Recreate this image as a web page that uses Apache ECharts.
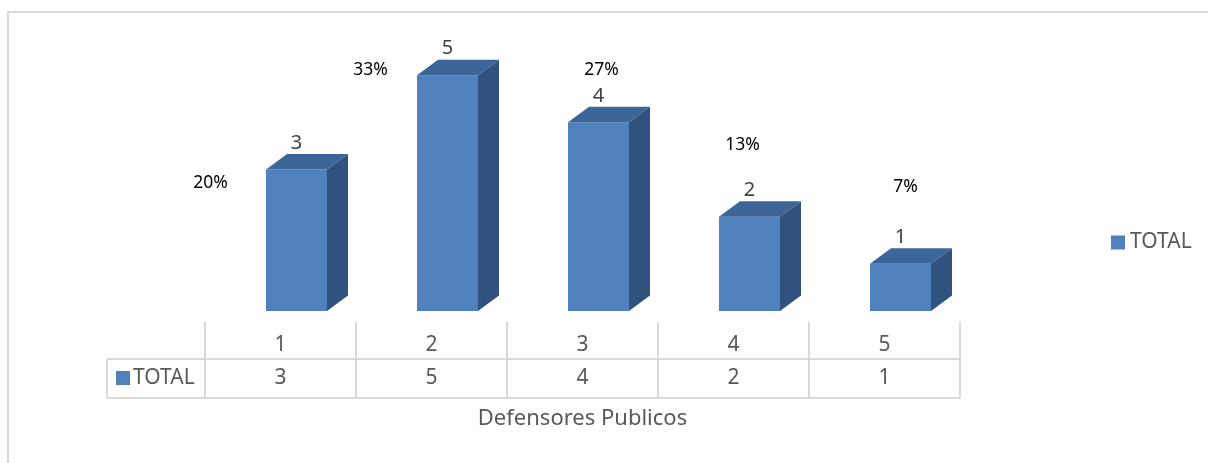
<!DOCTYPE html>
<html>
<head>
<meta charset="utf-8">
<title>Defensores Publicos</title>
<script src="https://cdn.jsdelivr.net/npm/echarts@6/dist/echarts.min.js"></script>
<style>
    html, body {margin: 0; padding: 0; background: #fff;}
    #g-echart {width: 1208px; height: 463px;}
</style>
</head>
<body>
<div id="g-echart"></div>
<script>
// datos
var categorias = ['1', '2', '3', '4', '5'];
var totales = [3, 5, 4, 2, 1];
var porcentajes = ['20%', '33%', '27%', '13%', '7%'];

// posicion manual de las etiquetas de porcentaje (px, relativo al centro de categoria / tope de barra)
var pctOffsets = [[-70, 14], [-61, -5], [19, -52], [9, -72], [21, -77]];

var FONT = 'Noto Sans';
var AZUL = '#4F81BD';
var TAPA = '#3D6698';
var LADO = '#30527F';
var GRIS = '#d9d9d9';

var mychart = echarts.init(document.getElementById('g-echart'));

// barra 3D dibujada a mano con custom series
function renderBarra(params, api) {
    var idx = api.value(0);
    var val = api.value(1);
    var top = api.coord([idx, val]);
    var base = api.coord([idx, 0]);
    var w = 61, dx = 21, dy = 15.5;
    var x0 = top[0] - 14.5;
    var yt = top[1], yb = base[1];
    var off = pctOffsets[idx];
    return {
        type: 'group',
        children: [
            {
                type: 'rect',
                shape: {x: x0, y: yt, width: w, height: yb - yt},
                style: {fill: AZUL}
            },
            {
                type: 'polygon',
                shape: {points: [[x0, yt], [x0 + dx, yt - dy], [x0 + w + dx, yt - dy], [x0 + w, yt]]},
                style: {fill: TAPA}
            },
            {
                type: 'polygon',
                shape: {points: [[x0 + w, yt], [x0 + w + dx, yt - dy], [x0 + w + dx, yb - dy], [x0 + w, yb]]},
                style: {fill: LADO}
            },
            {
                type: 'text',
                style: {
                    x: x0 + w / 2, y: yt - dy - 11,
                    text: String(val),
                    fill: '#404040', font: '20px "' + FONT + '"',
                    align: 'center', verticalAlign: 'middle'
                }
            },
            {
                type: 'text',
                style: {
                    x: top[0] + off[0], y: yt + off[1],
                    text: porcentajes[idx],
                    fill: '#000', font: '17.5px "' + FONT + '"',
                    align: 'center', verticalAlign: 'middle'
                }
            }
        ]
    };
}

var graficos = [
    // marco del grafico
    {type: 'rect', silent: true, shape: {x: 8, y: 12, width: 1260, height: 500}, style: {fill: null, stroke: GRIS, lineWidth: 2}},
    // tabla de datos
    {type: 'line', silent: true, shape: {x1: 107, y1: 359, x2: 960, y2: 359}, style: {stroke: GRIS, lineWidth: 2}},
    {type: 'line', silent: true, shape: {x1: 107, y1: 398, x2: 960, y2: 398}, style: {stroke: GRIS, lineWidth: 2}},
    {type: 'line', silent: true, shape: {x1: 107, y1: 359, x2: 107, y2: 398}, style: {stroke: GRIS, lineWidth: 2}},
    {type: 'rect', silent: true, shape: {x: 116, y: 371, width: 14, height: 14}, style: {fill: AZUL}},
    {type: 'text', silent: true, style: {x: 133, y: 378, text: 'TOTAL', fill: '#595959', font: '21px "' + FONT + '"', verticalAlign: 'middle'}}
];

var option = {
    animation: false,
    textStyle: {fontFamily: FONT},
    grid: {left: 205, right: 248, top: 28, bottom: 152},
    legend: {
        data: ['TOTAL'],
        left: 1111,
        top: 232,
        padding: 0,
        icon: 'rect',
        itemWidth: 14,
        itemHeight: 14,
        textStyle: {fontSize: 21, color: '#595959', fontFamily: FONT}
    },
    xAxis: [
        {
            type: 'category',
            data: categorias,
            position: 'bottom',
            offset: 11,
            axisLine: {show: false},
            axisTick: {show: false},
            axisLabel: {margin: 23, verticalAlign: 'middle', fontSize: 21, color: '#595959', fontFamily: FONT}
        },
        {
            type: 'category',
            data: totales.map(String),
            position: 'bottom',
            offset: 11,
            axisLine: {show: false},
            axisTick: {show: false},
            axisLabel: {margin: 56, verticalAlign: 'middle', fontSize: 21, color: '#595959', fontFamily: FONT},
            name: 'Defensores Publicos',
            nameLocation: 'middle',
            nameGap: 97,
            nameTextStyle: {fontSize: 22, color: '#595959', fontFamily: FONT, verticalAlign: 'middle'}
        }
    ],
    yAxis: {
        type: 'value',
        min: 0,
        max: 6,
        show: false
    },
    series: [
        {
            name: 'TOTAL',
            type: 'custom',
            xAxisIndex: 0,
            itemStyle: {color: AZUL},
            renderItem: renderBarra,
            encode: {x: 0, y: 1},
            data: totales.map(function (v, i) { return [i, v]; })
        }
    ],
    graphic: graficos
};

mychart.setOption(option);

// lineas verticales de la tabla en los limites de cada categoria
var c0 = mychart.convertToPixel({xAxisIndex: 0}, 0);
var c1 = mychart.convertToPixel({xAxisIndex: 0}, 1);
var paso = c1 - c0;
for (var i = 0; i <= categorias.length; i++) {
    var x = Math.round(c0 - paso / 2 + i * paso);
    graficos.push({type: 'line', silent: true, shape: {x1: x, y1: 322, x2: x, y2: 398}, style: {stroke: GRIS, lineWidth: 2}});
}
mychart.setOption({graphic: graficos});
</script>
</body>
</html>
